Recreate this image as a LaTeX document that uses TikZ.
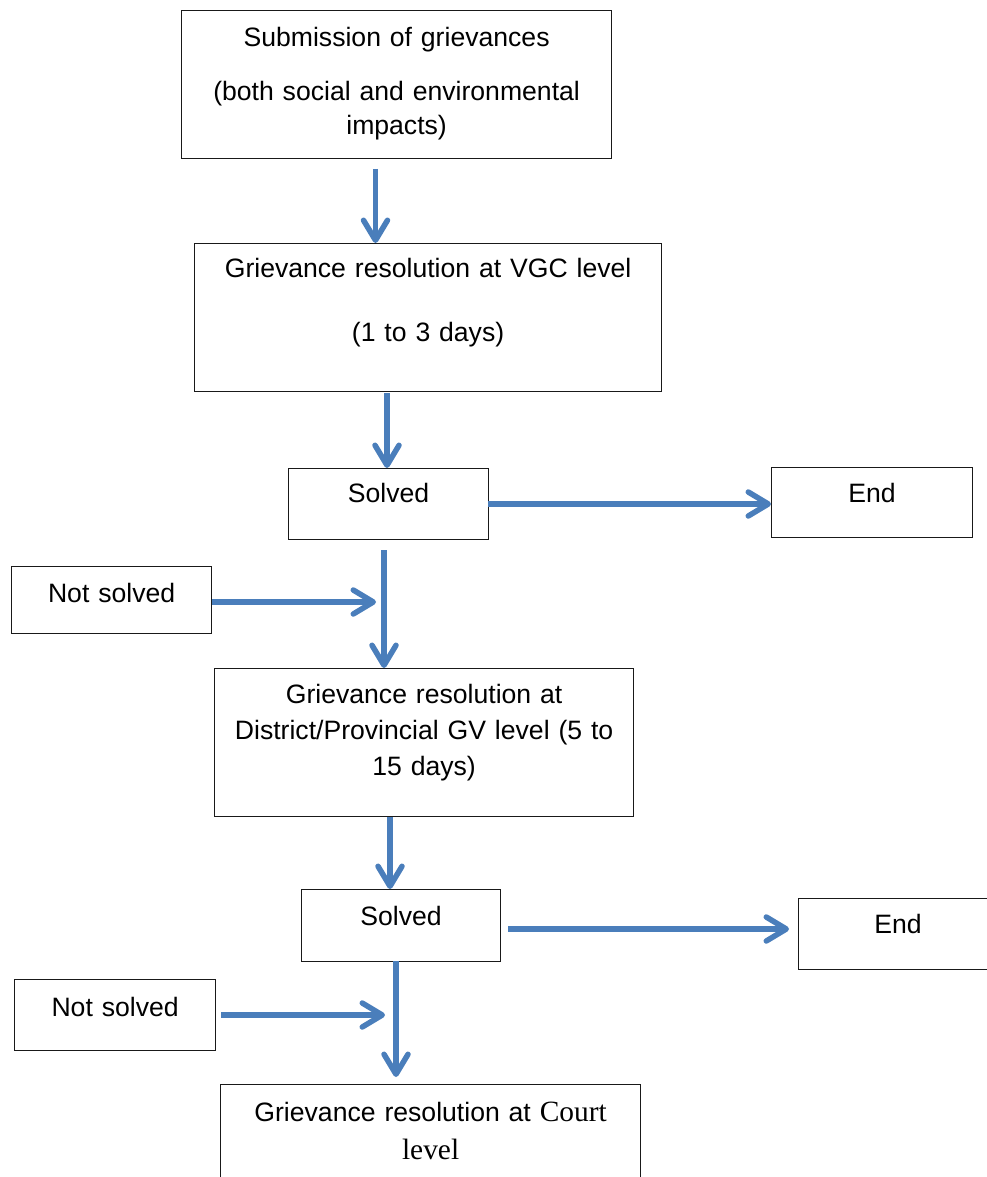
\documentclass[tikz,border=0pt]{standalone}
\usepackage{fontspec}
\setmainfont{Liberation Sans}
\newfontfamily\timesfont{Liberation Serif}
\usetikzlibrary{arrows.meta,calc}
\definecolor{flowblue}{HTML}{4A7EBB}

\begin{document}
\begin{tikzpicture}[x=1pt, y=-1pt,
  stepbox/.style={draw=black!90, line width=1.2pt, inner sep=0pt, anchor=north west, align=center, font=\fontsize{26.6}{34}\selectfont},
  arr/.style={-{Straight Barb[length=20pt,width=24pt,round]}, line width=5.5pt, flowblue}
]
  \path[use as bounding box, fill=white] (0,0) rectangle (987,1177);
  \clip (0,0) rectangle (987,1177);

  % boxes
  \node[stepbox, text width=430pt, text height=36pt, text depth=112pt] (submit) at (181,10)
    {Submission of grievances\\[20pt](both social and environmental\\impacts)};
  \node[stepbox, text width=467pt, text height=34pt, text depth=114pt] (vgc) at (194,243)
    {Grievance resolution at VGC level\\[30pt](1 to 3 days)};
  \node[stepbox, text width=200pt, text height=34pt, text depth=37pt] (solvedA) at (288,468) {Solved};
  \node[stepbox, text width=201pt, text height=35pt, text depth=35pt] (endA) at (771,467) {End};
  \node[stepbox, text width=200pt, text height=36pt, text depth=31pt] (notA) at (11,566) {Not solved};
  \node[stepbox, text width=419pt, text height=35pt, text depth=113pt] (district) at (214,668)
    {Grievance resolution at\\[2pt]District/Provincial GV level (5 to\\[2pt]15 days)};
  \node[stepbox, text width=199pt, text height=36pt, text depth=36pt] (solvedB) at (301,889) {Solved};
  \node[stepbox, text width=199pt, text height=35pt, text depth=36pt] (endB) at (798,898) {End};
  \node[stepbox, text width=201pt, text height=37pt, text depth=34pt] (notB) at (14,979) {Not solved};
  \node[stepbox, text width=420pt, text height=37pt, text depth=120pt] (court) at (220,1084)
    {Grievance resolution at {\timesfont\fontsize{29.4}{34}\selectfont Court}\\[4pt]{\timesfont\fontsize{29.4}{34}\selectfont level}};

  % arrow ends
  \coordinate (p1) at (375.5,169);
  \coordinate (p2) at (387,393);
  \coordinate (p3) at (488,504);
  \coordinate (p4) at (384,550);
  \coordinate (p5) at (376,602);
  \coordinate (p6) at (390,817);
  \coordinate (p7) at (508,929);
  \coordinate (p8) at (396,961);
  \coordinate (p9) at (385,1015);

  \draw[arr] (p1) -- (p1 |- vgc.north);
  \draw[arr] (p2) -- (p2 |- solvedA.north);
  \draw[arr] (p3) -- (p3 -| endA.west);
  \draw[arr] (p4) -- (p4 |- district.north);
  \draw[arr] (notA.east |- p5) -- (p5);
  \draw[arr] (p6) -- (p6 |- solvedB.north);
  \draw[arr] (p7) -- ($(p7 -| endB.west)+(-9,0)$);
  \draw[arr] (p8) -- ($(p8 |- court.north)+(0,-7)$);
  \draw[arr] ($(notB.east |- p9)+(5,0)$) -- (p9);
\end{tikzpicture}
\end{document}
